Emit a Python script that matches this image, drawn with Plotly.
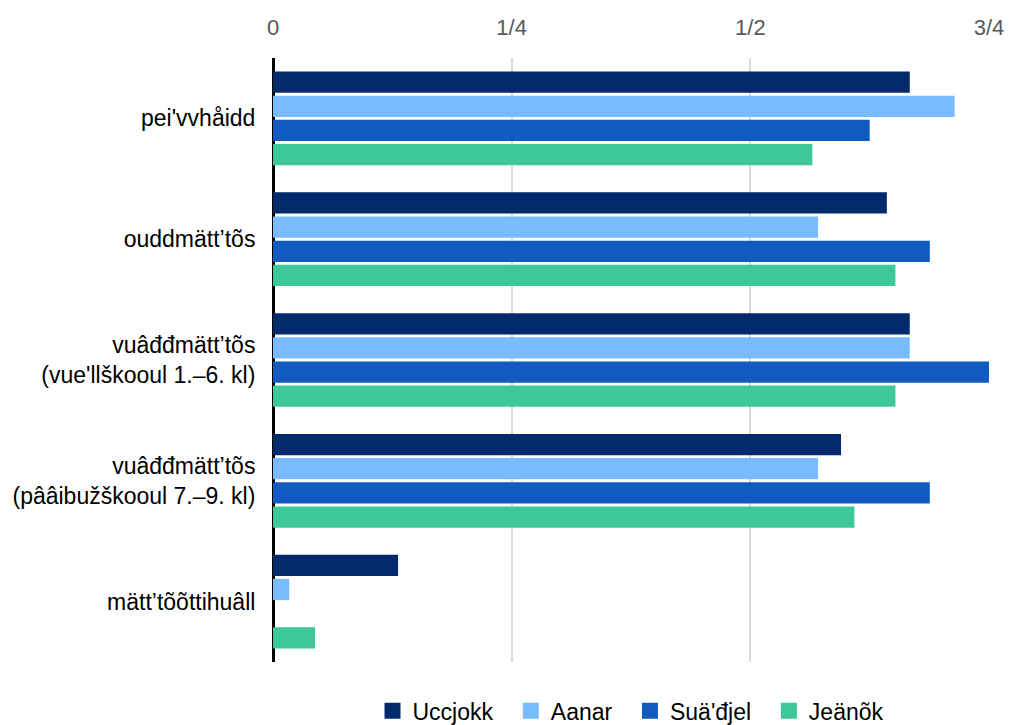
import plotly.graph_objects as go

categories = [
    "pei'vvhåidd",
    "ouddmätt’tõs",
    "vuâđđmätt’tõs<br>(vue'llškooul 1.–6. kl)",
    "vuâđđmätt’tõs<br>(pââibužškooul 7.–9. kl)",
    "mätt’tõõttihuâll",
]
series_names = ["Uccjokk", "Aanar", "Suä'đjel", "Jeänõk"]
uccjokk = [0.667, 0.643, 0.667, 0.595, 0.131]
aanar = [0.714, 0.571, 0.667, 0.571, 0.017]
suadjel = [0.625, 0.688, 0.75, 0.688, 0.0]
jeanok = [0.565, 0.652, 0.652, 0.609, 0.044]
tick_vals = [0, 0.25, 0.5, 0.75]
tick_text = ["0", "1/4", "1/2", "3/4"]

colors = ["#002A6C", "#78BCFF", "#115BC0", "#3EC797"]
values = [uccjokk, aanar, suadjel, jeanok]

FONT = "Liberation Sans, Arial, sans-serif"
PAD = "\u00a0\u00a0"

fig = go.Figure()
for name, vals, col in zip(series_names, values, colors):
    fig.add_trace(go.Bar(
        y=categories, x=vals, name=name, orientation="h",
        marker=dict(color=col, line=dict(width=0)),
        showlegend=False, legendgroup=name,
    ))
# legend entries with larger square swatches
for i, (name, col) in enumerate(zip(series_names, colors)):
    label = name + (PAD if i < len(series_names) - 1 else "")
    fig.add_trace(go.Scatter(
        x=[None], y=[None], mode="markers", name=label, legendgroup=name,
        marker=dict(symbol="square", size=16, color=col),
        showlegend=True, hoverinfo="skip",
    ))

fig.update_layout(
    width=1009, height=725,
    margin=dict(l=273, r=20, t=58, b=63, autoexpand=False),
    barmode="group", bargap=0.2, bargroupgap=0.12,
    plot_bgcolor="white", paper_bgcolor="white",
    font=dict(family=FONT, size=22, color="#000000"),
    legend=dict(orientation="h", x=0.5, xanchor="center", y=-0.081, yanchor="middle",
                font=dict(family=FONT, size=23, color="#000000"), traceorder="normal",
                itemsizing="trace"),
    showlegend=True,
)
fig.update_xaxes(
    side="top", range=[0, 0.75], tickvals=tick_vals, ticktext=tick_text,
    showgrid=True, gridcolor="#D9D9D9", gridwidth=1.5,
    zeroline=True, zerolinecolor="#000000", zerolinewidth=3,
    ticks="outside", ticklen=13, tickcolor="rgba(0,0,0,0)",
    tickfont=dict(family=FONT, size=22, color="#595959"), showline=False,
    automargin=False,
)
fig.update_yaxes(
    autorange="reversed", showgrid=False, showline=False,
    ticks="outside", ticklen=12, tickcolor="rgba(0,0,0,0)",
    tickfont=dict(family=FONT, size=23, color="#000000"),
    automargin=False,
)

fig.write_html("out.html", config={"displayModeBar": False},
               post_script="document.body.style.margin='0';")
